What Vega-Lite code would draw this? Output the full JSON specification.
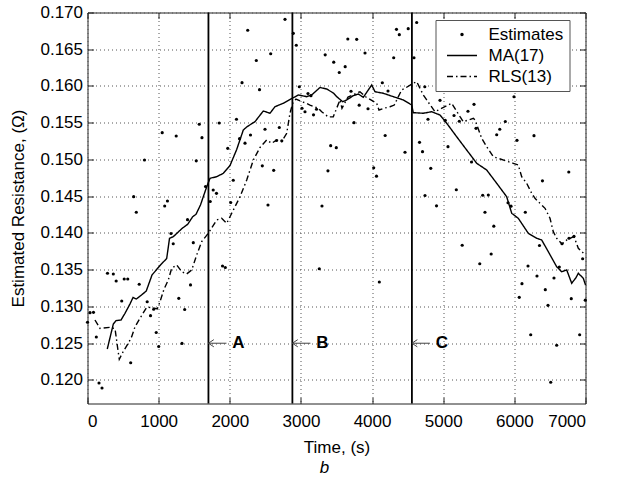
{
  "$schema": "https://vega.github.io/schema/vega-lite/v6.json",
  "autosize": {"type": "none"},
  "width": 498,
  "height": 391,
  "padding": {"left": 87.5, "top": 12.5, "right": 31.5, "bottom": 76.5},
  "background": "white",
  "config": {
    "font": "Liberation Sans",
    "view": {"stroke": "#222", "strokeWidth": 1},
    "axis": {
      "labelFont": "Liberation Sans", "labelFontSize": 17, "labelColor": "black",
      "titleFont": "Liberation Sans", "titleFontSize": 17, "titleFontWeight": "normal", "titleColor": "black",
      "tickColor": "#222", "tickSize": -6, "domain": false,
      "gridDash": [1, 3], "gridColor": "#555", "gridOpacity": 1, "gridWidth": 1
    },
    "legend": {
      "labelFont": "Liberation Sans", "labelFontSize": 17, "labelColor": "black"
    }
  },
  "title": {"text": "b", "orient": "bottom", "fontStyle": "italic", "fontWeight": "normal", "fontSize": 17, "font": "Liberation Sans", "color": "black", "offset": 4, "dx": -12},
  "datasets": {
    "est": [
      {"t":0,"r":0.12785},{"t":35,"r":0.12916},{"t":84,"r":0.1292},{"t":124,"r":0.12585},{"t":162,"r":0.11959},{"t":204,"r":0.11891},
      {"t":281,"r":0.13452},{"t":363,"r":0.13442},{"t":403,"r":0.13347},{"t":516,"r":0.13374},{"t":566,"r":0.13374},{"t":481,"r":0.13075},
      {"t":607,"r":0.12235},{"t":727,"r":0.13303},{"t":839,"r":0.13065},{"t":886,"r":0.12875},{"t":930,"r":0.12962},{"t":966,"r":0.12646},
      {"t":1001,"r":0.12456},{"t":649,"r":0.14494},{"t":686,"r":0.14282},{"t":801,"r":0.14993},{"t":1050,"r":0.15365},{"t":1247,"r":0.1532},
      {"t":1571,"r":0.15479},{"t":1609,"r":0.15297},{"t":1529,"r":0.14982},{"t":1085,"r":0.14367},{"t":1124,"r":0.14435},{"t":1174,"r":0.13993},
      {"t":1205,"r":0.13853},{"t":1283,"r":0.13111},{"t":1328,"r":0.12497},{"t":1366,"r":0.12959},{"t":1406,"r":0.14181},{"t":1448,"r":0.13293},
      {"t":1487,"r":0.13868},{"t":1659,"r":0.14633},{"t":1725,"r":0.14429},{"t":1767,"r":0.14585},{"t":1813,"r":0.1454},{"t":1851,"r":0.15497},
      {"t":1898,"r":0.13551},{"t":1937,"r":0.13531},{"t":1971,"r":0.15152},{"t":2013,"r":0.14415},{"t":2049,"r":0.14717},{"t":2094,"r":0.15547},
      {"t":2137,"r":0.15283},{"t":2172,"r":0.16045},{"t":2214,"r":0.15222},{"t":2252,"r":0.16759},{"t":2291,"r":0.15333},{"t":2373,"r":0.16347},
      {"t":2418,"r":0.1595},{"t":2457,"r":0.14914},{"t":2495,"r":0.15411},{"t":2537,"r":0.14381},{"t":2575,"r":0.16439},{"t":2617,"r":0.14853},
      {"t":2657,"r":0.15259},{"t":2696,"r":0.15435},{"t":2731,"r":0.15254},{"t":2776,"r":0.16907},{"t":2893,"r":0.16717},{"t":2935,"r":0.16554},
      {"t":2977,"r":0.1599},{"t":3015,"r":0.15697},{"t":3057,"r":0.1565},{"t":3099,"r":0.15898},{"t":3141,"r":0.15868},{"t":3177,"r":0.15608},
      {"t":3219,"r":0.15684},{"t":3258,"r":0.13513},{"t":3296,"r":0.14367},{"t":3341,"r":0.16424},{"t":3380,"r":0.14846},{"t":3418,"r":0.15188},
      {"t":3461,"r":0.16324},{"t":3497,"r":0.15161},{"t":3539,"r":0.16184},{"t":3622,"r":0.16263},{"t":3659,"r":0.16639},{"t":3704,"r":0.15929},
      {"t":3746,"r":0.15501},{"t":3784,"r":0.16635},{"t":3819,"r":0.15739},{"t":3901,"r":0.16449},{"t":3943,"r":0.15691},{"t":4023,"r":0.14887},
      {"t":4062,"r":0.14773},{"t":4102,"r":0.13333},{"t":4144,"r":0.16044},{"t":4184,"r":0.15327},{"t":4224,"r":0.15932},{"t":4304,"r":0.16384},
      {"t":4343,"r":0.16771},{"t":4383,"r":0.16698},{"t":4463,"r":0.15098},{"t":4508,"r":0.1678},{"t":4589,"r":0.16384},{"t":4627,"r":0.16864},
      {"t":4667,"r":0.15234},{"t":4709,"r":0.15106},{"t":4741,"r":0.1599},{"t":4744,"r":0.1451},{"t":4786,"r":0.15547},{"t":4825,"r":0.1488},
      {"t":4906,"r":0.1437},{"t":4955,"r":0.15805},{"t":5029,"r":0.15533},{"t":5067,"r":0.15174},{"t":5152,"r":0.15599},{"t":5184,"r":0.14588},
      {"t":5226,"r":0.1552},{"t":5267,"r":0.13833},{"t":5348,"r":0.15656},{"t":5398,"r":0.14966},{"t":5433,"r":0.15751},{"t":5461,"r":0.15424},
      {"t":5514,"r":0.13582},{"t":5555,"r":0.14513},{"t":5634,"r":0.14517},{"t":5587,"r":0.14282},{"t":5674,"r":0.13714},{"t":5711,"r":0.14093},
      {"t":5752,"r":0.15337},{"t":5795,"r":0.15412},{"t":5873,"r":0.15517},{"t":5911,"r":0.14412},{"t":5953,"r":0.14365},{"t":5995,"r":0.15854},
      {"t":6037,"r":0.15261},{"t":6069,"r":0.13125},{"t":6107,"r":0.1331},{"t":6154,"r":0.14282},{"t":6192,"r":0.13551},{"t":6230,"r":0.12616},
      {"t":6276,"r":0.15324},{"t":6318,"r":0.13415},{"t":6353,"r":0.1383},{"t":6395,"r":0.1471},{"t":6435,"r":0.13229},{"t":6473,"r":0.13016},
      {"t":6511,"r":0.11969},{"t":6557,"r":0.13388},{"t":6595,"r":0.12472},{"t":6632,"r":0.13537},{"t":6670,"r":0.13853},{"t":6768,"r":0.13928},
      {"t":6765,"r":0.1483},{"t":6800,"r":0.13106},{"t":6838,"r":0.13955},{"t":6918,"r":0.12616},{"t":6960,"r":0.13649},{"t":6997,"r":0.13086}
    ],
    "lines": [
      {"s":"MA(17)","t":278,"r":0.12422},{"s":"MA(17)","t":363,"r":0.12762},{"s":"MA(17)","t":401,"r":0.12807},{"s":"MA(17)","t":471,"r":0.12816},
      {"s":"MA(17)","t":527,"r":0.12907},{"s":"MA(17)","t":597,"r":0.13034},{"s":"MA(17)","t":640,"r":0.13122},{"s":"MA(17)","t":686,"r":0.13102},
      {"s":"MA(17)","t":759,"r":0.13156},{"s":"MA(17)","t":826,"r":0.13211},{"s":"MA(17)","t":907,"r":0.13429},{"s":"MA(17)","t":1026,"r":0.13565},
      {"s":"MA(17)","t":1113,"r":0.13653},{"s":"MA(17)","t":1153,"r":0.13928},{"s":"MA(17)","t":1206,"r":0.1395},{"s":"MA(17)","t":1328,"r":0.14061},
      {"s":"MA(17)","t":1408,"r":0.14118},{"s":"MA(17)","t":1479,"r":0.14222},{"s":"MA(17)","t":1525,"r":0.14254},{"s":"MA(17)","t":1588,"r":0.14381},
      {"s":"MA(17)","t":1676,"r":0.1463},{"s":"MA(17)","t":1722,"r":0.14744},{"s":"MA(17)","t":1816,"r":0.14766},{"s":"MA(17)","t":1909,"r":0.14812},
      {"s":"MA(17)","t":2003,"r":0.14918},{"s":"MA(17)","t":2097,"r":0.15136},{"s":"MA(17)","t":2190,"r":0.15401},{"s":"MA(17)","t":2242,"r":0.15446},
      {"s":"MA(17)","t":2354,"r":0.15514},{"s":"MA(17)","t":2471,"r":0.1566},{"s":"MA(17)","t":2565,"r":0.15629},{"s":"MA(17)","t":2635,"r":0.15718},
      {"s":"MA(17)","t":2752,"r":0.15765},{"s":"MA(17)","t":2879,"r":0.15833},{"s":"MA(17)","t":2963,"r":0.15878},{"s":"MA(17)","t":3081,"r":0.15855},
      {"s":"MA(17)","t":3151,"r":0.15878},{"s":"MA(17)","t":3268,"r":0.1598},{"s":"MA(17)","t":3362,"r":0.15959},{"s":"MA(17)","t":3455,"r":0.15905},
      {"s":"MA(17)","t":3503,"r":0.15855},{"s":"MA(17)","t":3587,"r":0.15786},{"s":"MA(17)","t":3643,"r":0.1581},{"s":"MA(17)","t":3736,"r":0.15868},
      {"s":"MA(17)","t":3806,"r":0.15891},{"s":"MA(17)","t":3877,"r":0.15846},{"s":"MA(17)","t":3947,"r":0.15946},{"s":"MA(17)","t":3995,"r":0.16014},
      {"s":"MA(17)","t":4041,"r":0.15922},{"s":"MA(17)","t":4158,"r":0.15901},{"s":"MA(17)","t":4298,"r":0.15855},{"s":"MA(17)","t":4439,"r":0.1581},
      {"s":"MA(17)","t":4557,"r":0.15741},{"s":"MA(17)","t":4579,"r":0.15637},{"s":"MA(17)","t":4720,"r":0.15629},{"s":"MA(17)","t":4838,"r":0.1565},
      {"s":"MA(17)","t":4955,"r":0.15605},{"s":"MA(17)","t":5049,"r":0.15493},{"s":"MA(17)","t":5189,"r":0.1531},{"s":"MA(17)","t":5330,"r":0.15129},
      {"s":"MA(17)","t":5471,"r":0.14948},{"s":"MA(17)","t":5611,"r":0.14857},{"s":"MA(17)","t":5752,"r":0.14676},{"s":"MA(17)","t":5892,"r":0.14494},
      {"s":"MA(17)","t":5963,"r":0.14268},{"s":"MA(17)","t":6055,"r":0.142},{"s":"MA(17)","t":6196,"r":0.13996},{"s":"MA(17)","t":6314,"r":0.13928},
      {"s":"MA(17)","t":6384,"r":0.13905},{"s":"MA(17)","t":6477,"r":0.13746},{"s":"MA(17)","t":6595,"r":0.13541},{"s":"MA(17)","t":6665,"r":0.13473},
      {"s":"MA(17)","t":6736,"r":0.13497},{"s":"MA(17)","t":6806,"r":0.13316},{"s":"MA(17)","t":6866,"r":0.13392},{"s":"MA(17)","t":6899,"r":0.13452},
      {"s":"MA(17)","t":6969,"r":0.13384},{"s":"MA(17)","t":7000,"r":0.13293},
      {"s":"RLS(13)","t":105,"r":0.12816},{"s":"RLS(13)","t":176,"r":0.12701},{"s":"RLS(13)","t":316,"r":0.12717},{"s":"RLS(13)","t":387,"r":0.12698},
      {"s":"RLS(13)","t":422,"r":0.12449},{"s":"RLS(13)","t":447,"r":0.12282},{"s":"RLS(13)","t":499,"r":0.12381},{"s":"RLS(13)","t":573,"r":0.12499},
      {"s":"RLS(13)","t":621,"r":0.12589},{"s":"RLS(13)","t":668,"r":0.12725},{"s":"RLS(13)","t":738,"r":0.1284},{"s":"RLS(13)","t":832,"r":0.12989},
      {"s":"RLS(13)","t":916,"r":0.12984},{"s":"RLS(13)","t":981,"r":0.12966},{"s":"RLS(13)","t":1019,"r":0.13065},{"s":"RLS(13)","t":1075,"r":0.13234},
      {"s":"RLS(13)","t":1136,"r":0.13361},{"s":"RLS(13)","t":1183,"r":0.1352},{"s":"RLS(13)","t":1254,"r":0.13565},{"s":"RLS(13)","t":1324,"r":0.13474},
      {"s":"RLS(13)","t":1394,"r":0.13442},{"s":"RLS(13)","t":1465,"r":0.13497},{"s":"RLS(13)","t":1535,"r":0.13701},{"s":"RLS(13)","t":1605,"r":0.13882},
      {"s":"RLS(13)","t":1698,"r":0.13996},{"s":"RLS(13)","t":1816,"r":0.14177},{"s":"RLS(13)","t":1886,"r":0.142},{"s":"RLS(13)","t":1957,"r":0.14132},
      {"s":"RLS(13)","t":2027,"r":0.14268},{"s":"RLS(13)","t":2144,"r":0.14494},{"s":"RLS(13)","t":2238,"r":0.14721},{"s":"RLS(13)","t":2331,"r":0.14993},
      {"s":"RLS(13)","t":2425,"r":0.15163},{"s":"RLS(13)","t":2519,"r":0.15265},{"s":"RLS(13)","t":2589,"r":0.1522},{"s":"RLS(13)","t":2659,"r":0.15265},
      {"s":"RLS(13)","t":2730,"r":0.15245},{"s":"RLS(13)","t":2800,"r":0.15356},{"s":"RLS(13)","t":2846,"r":0.15629},{"s":"RLS(13)","t":2884,"r":0.15765},
      {"s":"RLS(13)","t":2931,"r":0.15823},{"s":"RLS(13)","t":3011,"r":0.15786},{"s":"RLS(13)","t":3057,"r":0.15773},{"s":"RLS(13)","t":3127,"r":0.15741},
      {"s":"RLS(13)","t":3244,"r":0.15697},{"s":"RLS(13)","t":3292,"r":0.1565},{"s":"RLS(13)","t":3385,"r":0.15578},{"s":"RLS(13)","t":3455,"r":0.15582},
      {"s":"RLS(13)","t":3549,"r":0.1581},{"s":"RLS(13)","t":3577,"r":0.15697},{"s":"RLS(13)","t":3662,"r":0.1585},{"s":"RLS(13)","t":3760,"r":0.15891},
      {"s":"RLS(13)","t":3830,"r":0.15922},{"s":"RLS(13)","t":3915,"r":0.1585},{"s":"RLS(13)","t":4065,"r":0.15765},{"s":"RLS(13)","t":4097,"r":0.15673},
      {"s":"RLS(13)","t":4182,"r":0.15701},{"s":"RLS(13)","t":4252,"r":0.15718},{"s":"RLS(13)","t":4312,"r":0.15741},{"s":"RLS(13)","t":4416,"r":0.15946},
      {"s":"RLS(13)","t":4463,"r":0.15969},{"s":"RLS(13)","t":4579,"r":0.16037},{"s":"RLS(13)","t":4627,"r":0.16059},{"s":"RLS(13)","t":4720,"r":0.15878},
      {"s":"RLS(13)","t":4768,"r":0.1581},{"s":"RLS(13)","t":4885,"r":0.1565},{"s":"RLS(13)","t":4931,"r":0.15673},{"s":"RLS(13)","t":5071,"r":0.15741},
      {"s":"RLS(13)","t":5119,"r":0.15765},{"s":"RLS(13)","t":5236,"r":0.15582},{"s":"RLS(13)","t":5282,"r":0.15514},{"s":"RLS(13)","t":5423,"r":0.1556},
      {"s":"RLS(13)","t":5447,"r":0.15537},{"s":"RLS(13)","t":5541,"r":0.15288},{"s":"RLS(13)","t":5611,"r":0.15174},{"s":"RLS(13)","t":5704,"r":0.15038},
      {"s":"RLS(13)","t":5774,"r":0.15016},{"s":"RLS(13)","t":5915,"r":0.1497},{"s":"RLS(13)","t":5985,"r":0.14948},{"s":"RLS(13)","t":6055,"r":0.14925},
      {"s":"RLS(13)","t":6103,"r":0.14766},{"s":"RLS(13)","t":6173,"r":0.14676},{"s":"RLS(13)","t":6244,"r":0.1454},{"s":"RLS(13)","t":6290,"r":0.14472},
      {"s":"RLS(13)","t":6360,"r":0.14404},{"s":"RLS(13)","t":6431,"r":0.14336},{"s":"RLS(13)","t":6501,"r":0.142},{"s":"RLS(13)","t":6547,"r":0.14018},
      {"s":"RLS(13)","t":6595,"r":0.13928},{"s":"RLS(13)","t":6670,"r":0.1385},{"s":"RLS(13)","t":6736,"r":0.13905},{"s":"RLS(13)","t":6838,"r":0.13952},
      {"s":"RLS(13)","t":6899,"r":0.13792},{"s":"RLS(13)","t":6997,"r":0.13701}
    ],
    "events": [
      {"label": "A", "t": 1700, "r": 0.125},
      {"label": "B", "t": 2880, "r": 0.125},
      {"label": "C", "t": 4560, "r": 0.125}
    ]
  },
  "resolve": {"axis": {"x": "independent", "y": "independent"}},
  "layer": [
    {
      "data": {"name": "est"},
      "mark": {"type": "point", "filled": true, "color": "black", "size": 10, "opacity": 1},
      "encoding": {
        "x": {"field": "t", "type": "quantitative",
              "scale": {"domain": [0, 7000], "nice": false, "zero": false},
              "axis": {"title": "Time, (s)", "format": "d", "values": [0,1000,2000,3000,4000,5000,6000,7000], "grid": true, "labelPadding": 16, "titlePadding": 10}},
        "y": {"field": "r", "type": "quantitative",
              "scale": {"domain": [0.1168, 0.170], "nice": false, "zero": false},
              "axis": {"title": "Estimated Resistance, (Ω)", "values": [0.12,0.125,0.13,0.135,0.14,0.145,0.15,0.155,0.16,0.165,0.17], "format": ".3f", "grid": true, "labelPadding": 11, "titlePadding": 12}}
      }
    },
    {
      "data": {"name": "est"},
      "mark": {"type": "point", "opacity": 0},
      "encoding": {
        "x": {"field": "t", "type": "quantitative",
              "axis": {"orient": "top", "title": null, "labels": false, "grid": false, "values": [0,1000,2000,3000,4000,5000,6000,7000]}},
        "y": {"field": "r", "type": "quantitative",
              "axis": {"orient": "right", "title": null, "labels": false, "grid": false, "values": [0.12,0.125,0.13,0.135,0.14,0.145,0.15,0.155,0.16,0.165,0.17]}}
      }
    },
    {
      "data": {"name": "lines"},
      "mark": {"type": "line", "color": "black", "strokeWidth": 1.4},
      "encoding": {
        "x": {"field": "t", "type": "quantitative", "axis": null},
        "y": {"field": "r", "type": "quantitative", "axis": null},
        "detail": {"field": "s"},
        "strokeDash": {"field": "s", "type": "nominal",
          "scale": {"domain": ["Estimates", "MA(17)", "RLS(13)"], "range": [[1, 0], [1, 0], [6, 3, 1.5, 3]]},
          "legend": {
            "title": null, "orient": "none", "legendX": 348, "legendY": 7.5,
            "fillColor": "white", "strokeColor": "#555", "padding": 6, "rowPadding": 3,
            "symbolType": "stroke", "symbolSize": 900, "symbolStrokeColor": "black", "symbolStrokeWidth": 1.4,
            "labelOffset": 18, "symbolOffset": 12,
            "encode": {"symbols": {"update": {
              "shape": {"signal": "datum.value === 'Estimates' ? 'circle' : 'stroke'"},
              "size": {"signal": "datum.value === 'Estimates' ? 12 : 900"},
              "fill": {"signal": "datum.value === 'Estimates' ? 'black' : 'transparent'"},
              "stroke": {"value": "black"},
              "opacity": {"value": 1},
              "strokeOpacity": {"value": 1},
              "strokeWidth": {"signal": "datum.value === 'Estimates' ? 0 : 1.4"}
            }}}
          }
        }
      }
    },
    {
      "data": {"name": "events"},
      "mark": {"type": "rule", "color": "black", "strokeWidth": 1.8},
      "encoding": {"x": {"field": "t", "type": "quantitative", "axis": null}}
    },
    {
      "data": {"name": "events"},
      "mark": {"type": "point", "shape": "M0,0L2,0M0.6,-0.4L0,0L0.6,0.4", "size": 324, "filled": false, "color": "#444", "strokeWidth": 1, "opacity": 1},
      "encoding": {
        "x": {"field": "t", "type": "quantitative", "axis": null},
        "y": {"field": "r", "type": "quantitative", "axis": null}
      }
    },
    {
      "data": {"name": "events"},
      "mark": {"type": "text", "dx": 30, "fontWeight": "bold", "fontSize": 17, "font": "Liberation Sans", "color": "black", "align": "center", "baseline": "middle"},
      "encoding": {
        "x": {"field": "t", "type": "quantitative", "axis": null},
        "y": {"field": "r", "type": "quantitative", "axis": null},
        "text": {"field": "label"}
      }
    }
  ]
}
